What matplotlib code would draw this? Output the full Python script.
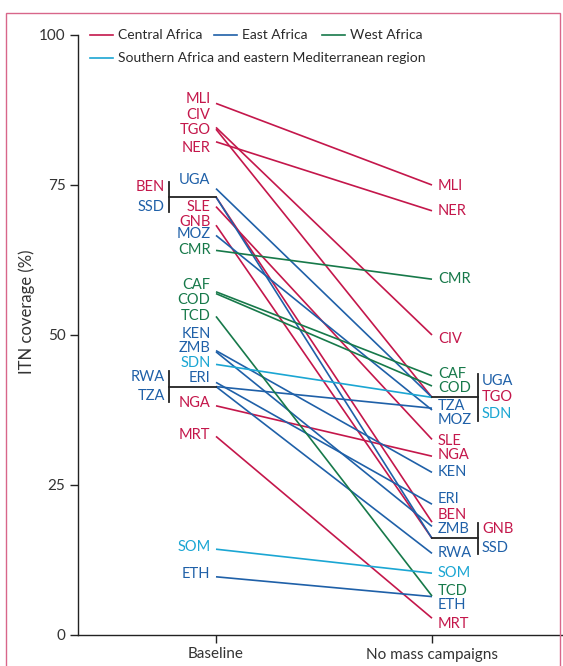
import matplotlib.pyplot as plt
from matplotlib.lines import Line2D
from matplotlib.patches import Rectangle

plt.rcParams['font.family'] = ['Lato', 'DejaVu Sans']

# ---- data ----
countries = ['MLI', 'CIV', 'TGO', 'NER', 'BEN', 'SLE', 'GNB', 'NGA', 'MRT',
             'UGA', 'SSD', 'MOZ', 'KEN', 'ZMB', 'RWA', 'TZA', 'ERI', 'ETH',
             'CMR', 'CAF', 'COD', 'TCD',
             'SDN', 'SOM']
regions = ['Central Africa'] * 9 + ['East Africa'] * 9 + ['West Africa'] * 4 + \
          ['Southern Africa and eastern Mediterranean region'] * 2
baseline = [88.6, 84.6, 84.3, 82.2, 73.0, 71.4, 68.3, 38.2, 33.1,
            74.4, 73.0, 66.6, 47.4, 47.2, 41.4, 41.4, 42.1, 9.7,
            64.1, 57.2, 56.9, 53.1,
            45.1, 14.3]
no_mass = [75.0, 50.0, 39.6, 70.7, 18.8, 32.6, 16.1, 29.8, 2.8,
           39.6, 16.1, 37.5, 27.1, 18.1, 13.6, 37.8, 21.8, 6.4,
           59.3, 43.2, 41.5, 6.5,
           39.6, 10.3]
region_names = ['Central Africa', 'East Africa', 'West Africa',
                'Southern Africa and eastern Mediterranean region']
xcats = ['Baseline', 'No mass campaigns']
yticks = [0, 25, 50, 75, 100]

# ---- styling / layout ----
colors = {'Central Africa': '#c4174b', 'East Africa': '#1f60a8',
          'West Africa': '#17794a',
          'Southern Africa and eastern Mediterranean region': '#1ba6d3'}

# label positions (y, data units) where labels had to be spread apart
left_label_y = {'MLI': 89.4, 'CIV': 86.7, 'TGO': 84.2, 'NER': 81.1, 'UGA': 75.8,
                'SLE': 71.4, 'GNB': 68.9, 'MOZ': 66.8, 'CMR': 64.2, 'CAF': 58.3,
                'COD': 55.9, 'TCD': 53.1, 'KEN': 50.1, 'ZMB': 47.8, 'SDN': 45.3,
                'ERI': 42.9, 'NGA': 38.6, 'MRT': 33.3, 'SOM': 14.6, 'ETH': 10.1}
right_label_y = {'MLI': 74.8, 'NER': 70.6, 'CMR': 59.4, 'CIV': 49.4, 'CAF': 43.5,
                 'COD': 41.2, 'TZA': 38.2, 'MOZ': 35.9, 'SLE': 32.4, 'NGA': 30.0,
                 'KEN': 27.2, 'ERI': 22.7, 'BEN': 20.0, 'ZMB': 17.6, 'RWA': 13.6,
                 'SOM': 10.3, 'TCD': 7.4, 'ETH': 5.0, 'MRT': 1.8}
left_brackets = [['BEN', 'SSD'], ['RWA', 'TZA']]
right_brackets = [['UGA', 'TGO', 'SDN'], ['GNB', 'SSD']]

W, H = 563, 666
fig = plt.figure(figsize=(W / 100, H / 100), dpi=100)

def fx(px):
    return px / W

def fy(py):
    return 1 - py / H

ax = fig.add_axes([fx(78), fy(635), fx(563) - fx(78), fy(35) - fy(635)])
ax.set_xlim(-138 / 216, 1 + 131 / 216)
ax.set_ylim(0, 100)
for s in ['top', 'right']:
    ax.spines[s].set_visible(False)
for s in ['left', 'bottom']:
    ax.spines[s].set_color('#222222')
    ax.spines[s].set_linewidth(1.0)
ax.set_yticks(yticks)
ax.set_xticks([0, 1])
ax.set_xticklabels(xcats)
ax.tick_params(direction='out', length=6, width=1, color='#222222',
               labelsize=11, labelcolor='#333333', pad=3)
ax.set_ylabel('ITN coverage (%)', fontsize=12, color='#333333')
ax.yaxis.set_label_coords(-43 / 485, (635 - 312) / 600)

info = {c: (r, b, n) for c, r, b, n in zip(countries, regions, baseline, no_mass)}

for c, r, b, n in zip(countries, regions, baseline, no_mass):
    ax.plot([0, 1], [b, n], color=colors[r], lw=1.2, solid_capstyle='butt')

lab_fs = 10.5
in_left_br = [c for g in left_brackets for c in g]
in_right_br = [c for g in right_brackets for c in g]

for c in countries:
    r = info[c][0]
    if c not in in_left_br:
        ax.text(-0.025, left_label_y[c], c, color=colors[r], fontsize=lab_fs,
                ha='right', va='center')
    if c not in in_right_br:
        ax.text(1.028, right_label_y[c], c, color=colors[r], fontsize=lab_fs,
                ha='left', va='center')

# left brackets
for g in left_brackets:
    yv = info[g[0]][1]
    ax.plot([-0.218, 0], [yv, yv], color='#222222', lw=1.3)
    ax.plot([-0.218, -0.218], [yv - 2.55, yv + 2.55], color='#222222', lw=1.3)
    offs = [1.6, -1.6]
    for c, o in zip(g, offs):
        ax.text(-0.236, yv + o, c, color=colors[info[c][0]], fontsize=lab_fs,
                ha='right', va='center')

# right brackets
for g in right_brackets:
    yv = info[g[0]][2]
    half = 3.9 if len(g) == 3 else 2.55
    offs = [2.75, 0, -2.85] if len(g) == 3 else [1.6, -1.6]
    ax.plot([1, 1.213], [yv, yv], color='#222222', lw=1.3)
    ax.plot([1.213, 1.213], [yv - half, yv + half], color='#222222', lw=1.3)
    for c, o in zip(g, offs):
        ax.text(1.231, yv + o, c, color=colors[info[c][0]], fontsize=lab_fs,
                ha='left', va='center')

# legend drawn in figure pixels
legend_pos = [(90, 35), (214, 35), (322, 35), (90, 58)]
for name, (px, py) in zip(region_names, legend_pos):
    fig.add_artist(Line2D([fx(px), fx(px + 23)], [fy(py), fy(py)],
                          color=colors[name], lw=1.2))
    fig.text(fx(px + 28), fy(py), name, fontsize=10, color='#2a2a2a',
             ha='left', va='center')

# thin panel frame
fig.add_artist(Rectangle((fx(6), fy(700)), fx(559.5) - fx(6), fy(13) - fy(700),
                         fill=False, edgecolor='#d8668a', lw=1.0,
                         transform=fig.transFigure, clip_on=False))

fig.savefig('out.png', dpi=100)
